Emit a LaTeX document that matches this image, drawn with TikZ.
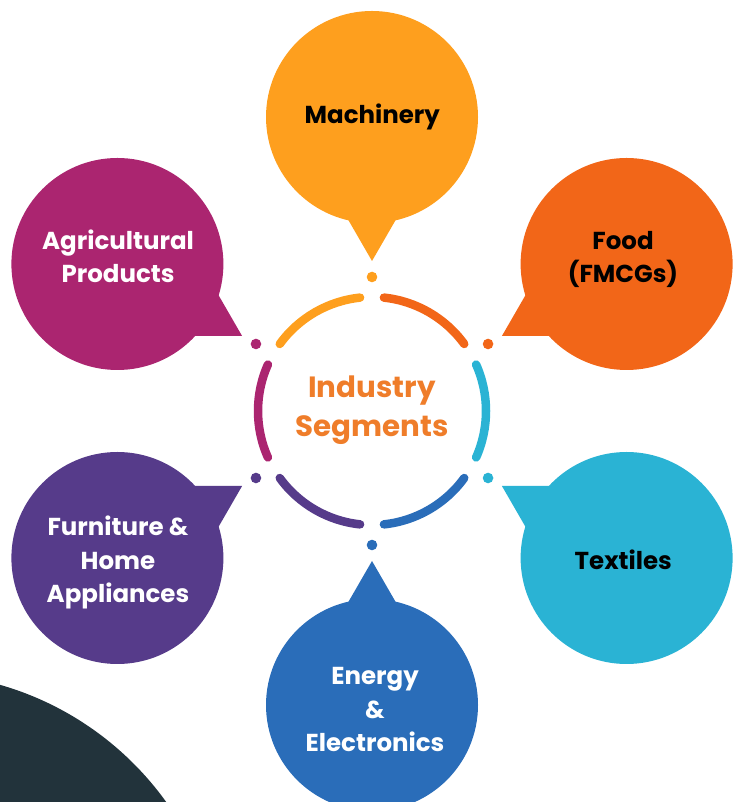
\documentclass[tikz,border=0pt]{standalone}
\usepackage{fontspec}
\setmainfont{Poppins}
\usetikzlibrary{calc}
\definecolor{cMach}{HTML}{FE9F1E}
\definecolor{cFood}{HTML}{F26618}
\definecolor{cTex}{HTML}{2AB3D4}
\definecolor{cEner}{HTML}{2A6DB9}
\definecolor{cFurn}{HTML}{563B8A}
\definecolor{cAgri}{HTML}{AB2570}
\definecolor{cDark}{HTML}{22333B}
\definecolor{cTitle}{HTML}{EF7D2A}
\tikzset{
  bubble/.style={circle, minimum size=212pt, inner sep=0pt},
  btext/.style={anchor=base, inner sep=0pt, align=center,
    font=\fontsize{24.5}{33.5}\selectfont\bfseries},
  seg/.style={line width=8.5pt, line cap=round},
  ringdot/.style={circle, minimum size=10.6pt, inner sep=0pt},
}
% #1 name, #2 angle, #3 colour, #4 text colour, #5 text x, #6 last baseline (from top), #7 text
\newcommand\mybubble[7]{%
  \coordinate (#1-tip) at ($(ctr)+(#2:150)$);
  \fill[#3] (#1-tip) -- ($(#1-tip)+(#2+30:100)$) -- ($(#1-tip)+(#2-30:100)$) -- cycle;
  \node[bubble, fill=#3] (#1) at ($(ctr)+(#2:294)$) {};
  \node[btext, text=#4] (#1-text) at (#5,802-#6) {#7};
  \node[ringdot, fill=#3] (#1-dot) at ($(ctr)+(#2:134)$) {};
  \draw[seg, #3] ($(ctr)+(#2+6:114)$) arc[start angle=#2+6, end angle=#2+54, radius=114];
}
\begin{document}
\begin{tikzpicture}[x=1pt,y=1pt]
\useasboundingbox (0,0) rectangle (732,802);
\fill[cDark] (-85,-180) circle (309);
\coordinate (ctr) at (372,391);
\mybubble{mach}{90}{cMach}{black}{372.3}{124}{Machinery}
\mybubble{food}{30}{cFood}{black}{623}{283}{Food\\(FMCGs)}
\mybubble{tex}{-30}{cTex}{black}{623.3}{570}{Textiles}
\mybubble{ener}{-90}{cEner}{white}{375}{752}{Energy\\\&\\Electronics}
\mybubble{furn}{210}{cFurn}{white}{118}{603}{Furniture \&\\Home\\Appliances}
\mybubble{agri}{150}{cAgri}{white}{118}{283}{Agricultural\\Products}
\node[anchor=base, inner sep=0pt, text=cTitle, align=center, font=\fontsize{29.3}{39}\selectfont\bfseries] (title) at (372,802-437) {Industry\\Segments};
\end{tikzpicture}
\end{document}
